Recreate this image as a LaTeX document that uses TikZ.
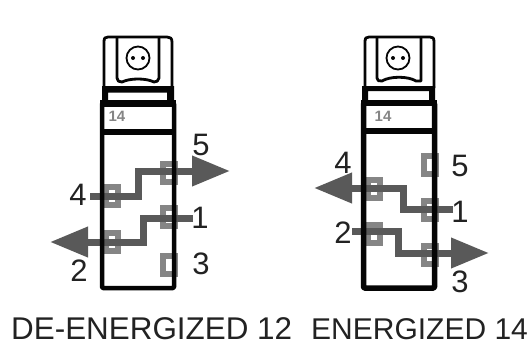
\documentclass[tikz,border=0pt]{standalone}
\usepackage{fontspec}
\setmainfont{Liberation Sans}
\usetikzlibrary{arrows.meta}
\definecolor{flow}{HTML}{595959}
\definecolor{port}{HTML}{858585}
\definecolor{ink}{HTML}{050505}
\definecolor{txt}{HTML}{222222}
\tikzset{
  x=1pt,y=-1pt,
  portbox/.style={draw=port,line width=6pt,fill=white,inner sep=0pt,minimum width=12pt,minimum height=18pt,anchor=center},
  flowline/.style={draw=flow,line width=7pt,line join=miter},
  flowarrow/.style={flowline,-{Triangle[width=29pt,length=38pt]}},
  bodyline/.style={draw=ink,line width=#1,line join=round,rounded corners=1pt},
  bodyline/.default=4.5pt,
  collar/.style={fill=ink,even odd rule},
  capline/.style={draw=ink,line width=2.8pt,line join=round},
  seat/.style={circle,draw=ink,line width=1.8pt,minimum size=23pt,inner sep=0pt},
  num/.style={text=txt,font=\fontsize{31}{31}\selectfont,inner sep=0pt},
  caption/.style={text=txt,font=\fontsize{31.4}{32}\selectfont,inner sep=0pt,anchor=base west},
  tag/.style={text=port,font=\fontsize{15}{15}\selectfont\bfseries,inner sep=0pt},
}
\begin{document}
\begin{tikzpicture}
\useasboundingbox (0,0) rectangle (532,343);
\fill[white] (0,0) rectangle (532,343);
% ---- left device
\node[portbox] (L4) at (112,195.5) {};
\node[portbox] (L2) at (112,242) {};
\node[portbox] (L5) at (169,172.5) {};
\node[portbox] (L1) at (169,217) {};
\node[portbox] (L3) at (169,264.5) {};
\node[num] (n4) at (78,195) {4};
\node[num] (n2) at (79,271) {2};
\node[num] (n5) at (201,145) {5};
\node[num] (n1) at (200,218) {1};
\node[num] (n3) at (201,264) {3};
\coordinate (a4) at (90,196);
\coordinate (a5) at (230,171);
\coordinate (a1) at (193,218);
\coordinate (a2) at (50,242);
\draw[flowarrow] (a4) -- (138,196) -- (138,171) -- (a5);
\draw[flowarrow] (a1) -- (143,218) -- (143,242) -- (a2);
\draw[bodyline] (102,103) rectangle (174,288);
\draw[bodyline=5.5pt] (102,132) -- (174,132);
\draw[bodyline=7pt] (100,103.5) -- (176,103.5);
\fill[collar] (102,86) rectangle (174,101) (108,92.5) rectangle (167,100);
\draw[capline] (104,88) -- (104,42) .. controls (104,38) and (105,37) .. (108,37) -- (167,37) .. controls (170,37) and (172,38) .. (172,42) -- (172,88);
\draw[capline] (117,37) -- (117,78) .. controls (117,81) and (119,82) .. (122,82) .. controls (130,78) and (146,78) .. (154,82) .. controls (157,82) and (158,81) .. (159,78) -- (159,37);
\node[seat] (cL) at (138,58) {};
\fill[ink] (133,58) circle (2) (143,58) circle (2);
\node[tag] (tL) at (117,116) {14};
% ---- right device
\node[portbox] (R4) at (374,188.5) {};
\node[portbox] (R2) at (374,233.5) {};
\node[portbox] (R5) at (430,165) {};
\node[portbox] (R1) at (430,209.5) {};
\node[portbox] (R3) at (430,254.5) {};
\node[num] (m4) at (343,163) {4};
\node[num] (m2) at (343,233) {2};
\node[num] (m5) at (460,166) {5};
\node[num] (m1) at (460,212) {1};
\node[num] (m3) at (460,282) {3};
\coordinate (b4) at (314,188);
\coordinate (b1) at (453,209);
\coordinate (b2) at (352,231);
\coordinate (b3) at (489,253);
\draw[flowarrow] (b1) -- (403,209) -- (403,188) -- (b4);
\draw[flowarrow] (b2) -- (398,231) -- (398,253) -- (b3);
\draw[bodyline=5.5pt] (363.5,103) rectangle (434.5,288);
\draw[bodyline=6pt] (363.5,131) -- (434.5,131);
\draw[bodyline=5pt] (361,102.5) -- (437,102.5);
\fill[collar] (362,86) rectangle (435,101) (368,91) rectangle (429,100);
\draw[capline] (365,88) -- (365,42) .. controls (365,38) and (366,37) .. (369,37) -- (430,37) .. controls (433,37) and (434,38) .. (434,42) -- (434,88);
\draw[capline] (377,37) -- (377,78) .. controls (377,81) and (379,81) .. (382,81) .. controls (390,76) and (408,76) .. (416,81) -- (421,81) -- (421,37);
\node[seat] (cR) at (398,58) {};
\fill[ink] (393,58) circle (2) (403,58) circle (2);
\node[tag] (tR) at (383,116) {14};
% ---- captions
\node[caption] (capL) at (11,339.5) {DE-ENERGIZED 12};
\node[caption,font=\fontsize{30}{32}\selectfont] (capR) at (311,339.5) {ENERGIZED 14};
\end{tikzpicture}
\end{document}
